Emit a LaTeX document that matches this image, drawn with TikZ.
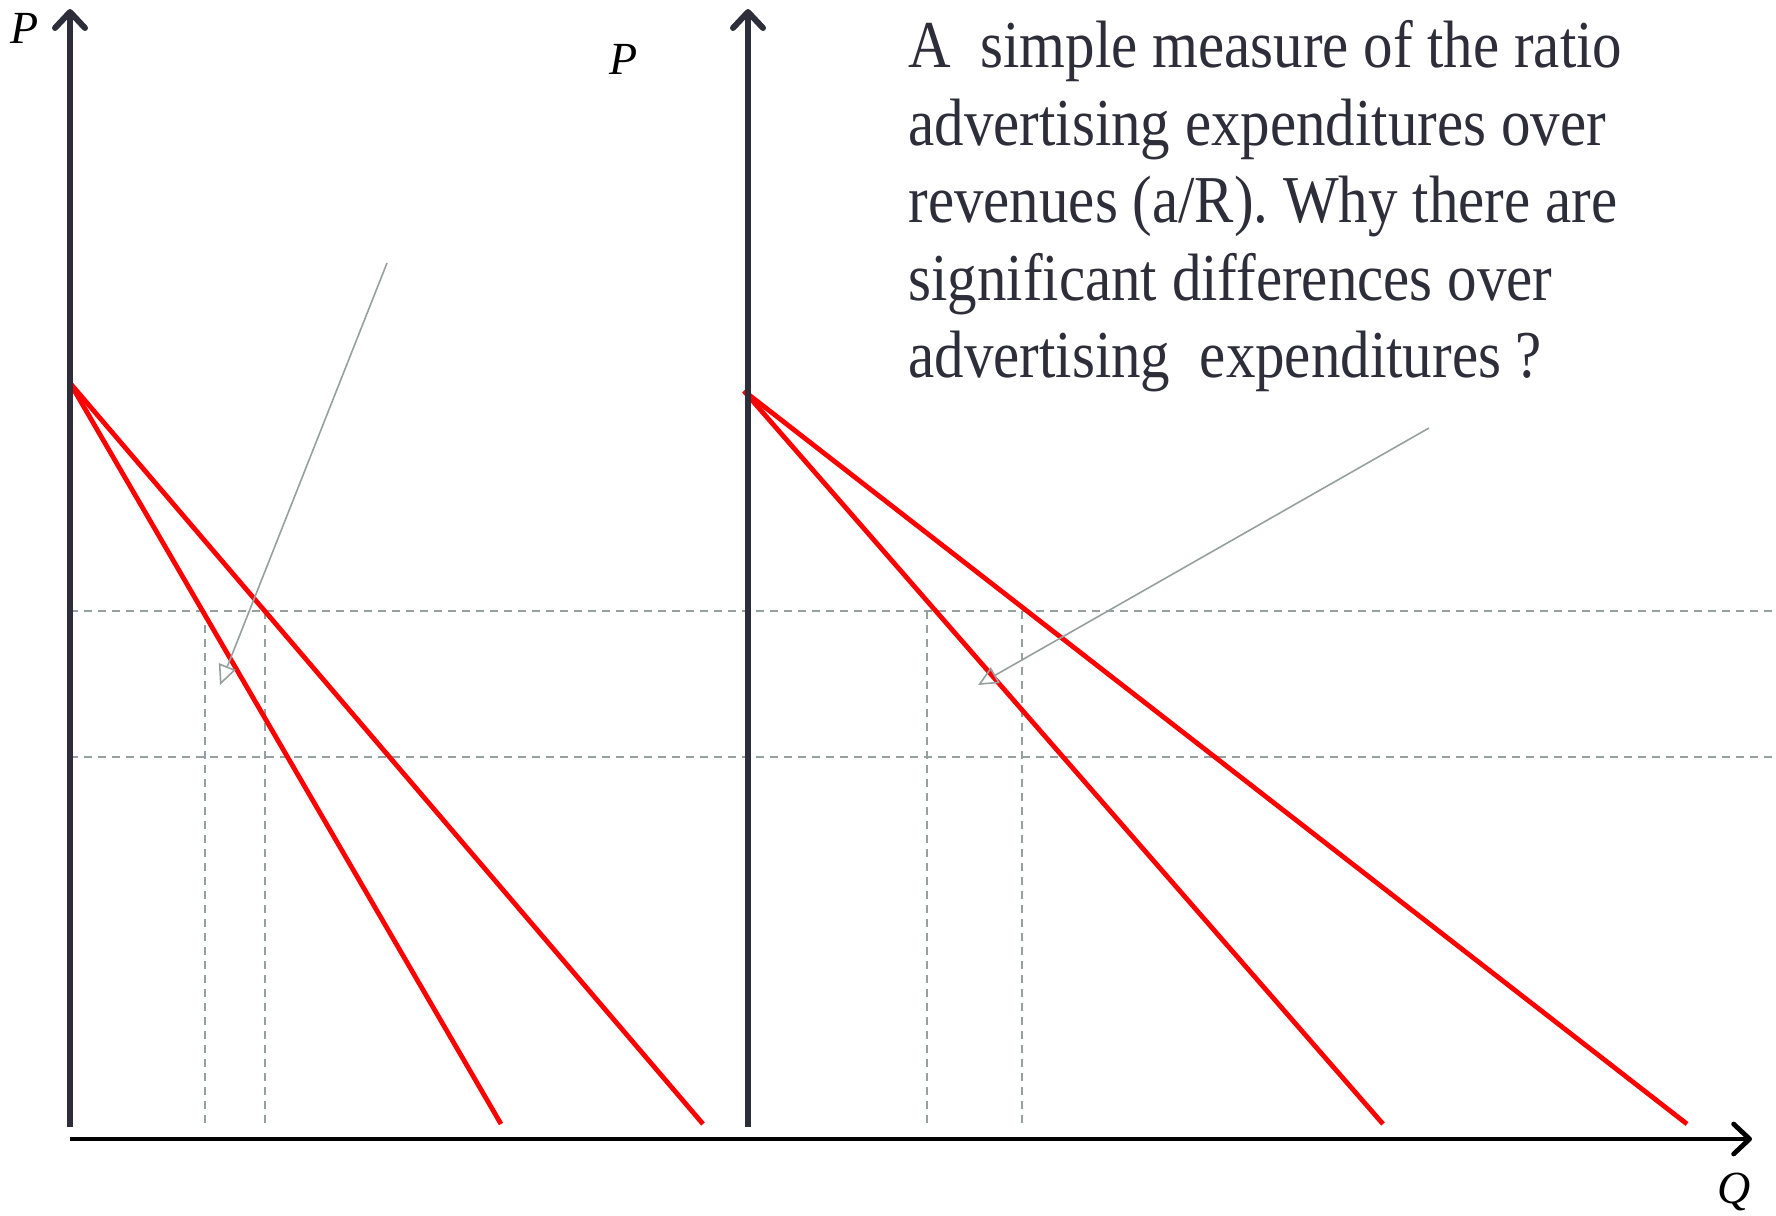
\documentclass[tikz,border=0pt]{standalone}
\usepackage{fontspec}
\setmainfont{Liberation Serif}
\newfontfamily\notefont[FakeStretch=0.88]{Liberation Serif}
\usetikzlibrary{arrows.meta}
\definecolor{axisgray}{RGB}{46,45,58}
\definecolor{guidegray}{RGB}{150,160,158}
\tikzset{
  axis line/.style={color=axisgray, line width=3pt, -{Straight Barb[round, length=8pt, width=15pt]}},
  q axis/.style={color=black, line width=2.4pt, -{Straight Barb[round, length=8pt, width=15pt]}},
  demand/.style={color=red, line width=2.4pt},
  guide/.style={color=guidegray, line width=0.75pt, dash pattern=on 4pt off 3pt},
  pointer/.style={color=guidegray, line width=0.8pt, -{Triangle[open, length=10pt, width=9pt]}}
}
\begin{document}
\begin{tikzpicture}[x=0.5pt,y=0.5pt,yscale=-1,xscale=1]
\useasboundingbox (0,0) rectangle (1776,1215);

%Coordinates
\coordinate (O1) at (70,1127);
\coordinate (T1) at (70,9);
\coordinate (O2) at (748,1127);
\coordinate (T2) at (748,9);
\coordinate (Q0) at (70,1139);
\coordinate (Q1) at (1752,1139);
\coordinate (A1) at (70,383);
\coordinate (A2) at (744,391);
\coordinate (L1) at (501,1124);
\coordinate (L2) at (703,1124);
\coordinate (R1) at (1383,1124);
\coordinate (R2) at (1687,1124);

%Dashed guides
\draw [guide] (70,611) -- (1776,611);
\draw [guide] (70,757) -- (1776,757);
\draw [guide] (205,611) -- (205,1127);
\draw [guide] (265,611) -- (265,1127);
\draw [guide] (927,611) -- (927,1127);
\draw [guide] (1022,611) -- (1022,1127);

%Demand curves
\draw [demand] (A1) -- (L1);
\draw [demand] (A1) -- (L2);
\draw [demand] (A2) -- (R1);
\draw [demand] (A2) -- (R2);

%Axes
\draw [axis line] (O1) -- (T1);
\draw [axis line] (O2) -- (T2);
\draw [q axis] (Q0) -- (Q1);

%Pointers
\coordinate (p1s) at (387,263);
\coordinate (p1e) at (220,685);
\coordinate (p2s) at (1429,428);
\coordinate (p2e) at (978,685);
\draw [pointer] (p1s) -- (p1e);
\draw [pointer] (p2s) -- (p2e);

% Text Node
\node (pl) at (25,28) [font=\fontsize{23}{27}\selectfont\itshape] {P};
\node (pr) at (624,59) [font=\fontsize{23}{27}\selectfont\itshape] {P};
\node (q) at (1734,1192) [font=\fontsize{23}{27}\selectfont\itshape] {Q};
\node (note) at (908,20) [anchor=north west, inner sep=0pt, align=left, text=axisgray, font=\notefont\fontsize{33.5}{38.8}\selectfont] {A\ \ simple measure of the ratio\\advertising expenditures over\\revenues (a/R). Why there are\\significant differences over\\advertising\ \ expenditures ?};

\end{tikzpicture}
\end{document}
